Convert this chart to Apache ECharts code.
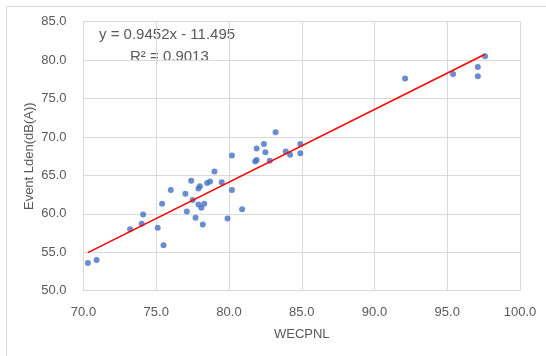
<!DOCTYPE html>
<html>
<head>
<meta charset="utf-8">
<script src="https://cdn.jsdelivr.net/npm/echarts@6/dist/echarts.min.js"></script>
<style>
  html, body { margin: 0; padding: 0; background: #fff; }
  #chart { width: 546px; height: 356px; }
</style>
</head>
<body>
<div id="chart"></div>
<script>
// WECPNL vs Event Lden
const wecpnl = [
  70.3, 70.9, 73.2, 74.0, 74.1, 75.1, 75.4, 75.5, 76.0, 77.0,
  77.1, 77.4, 77.5, 77.7, 77.9, 78.0, 77.9, 78.1, 78.2, 78.3,
  78.5, 78.7, 79.0, 79.5, 79.9, 80.2, 80.2, 80.9, 81.8, 81.9,
  81.9, 82.4, 82.5, 82.8, 83.2, 83.9, 84.2, 84.9, 84.9, 92.1,
  95.4, 97.1, 97.1, 97.6
]
const lden = [
  53.6, 54.0, 58.0, 58.7, 59.9, 58.2, 61.3, 55.9, 63.1, 62.6,
  60.3, 64.3, 61.8, 59.5, 63.3, 63.6, 61.2, 60.8, 58.6, 61.3,
  64.0, 64.2, 65.5, 64.1, 59.4, 63.1, 67.6, 60.6, 66.8, 67.0,
  68.5, 69.1, 68.0, 66.9, 70.6, 68.1, 67.7, 67.9, 69.1, 77.6,
  78.2, 79.1, 77.9, 80.5
]
const slope = 0.9452
const intercept = -11.495
const r2 = 0.9013

const points = wecpnl.map((x, i) => [x, lden[i]])
const xMin = Math.min(...wecpnl)
const xMax = Math.max(...wecpnl)
const trend = [xMin, xMax].map(x => [x, slope * x + intercept])

const FONT = 'Liberation Sans'
const GRAY = '#595959'
const GRID = '#d9d9d9'

const chart = echarts.init(document.getElementById('chart'))
chart.setOption({
  animation: false,
  textStyle: { fontFamily: FONT },
  grid: { left: 83.5, right: 26, top: 21.7, bottom: 65.3 },
  graphic: [{
    type: 'rect',
    shape: { x: 6.5, y: 6.5, width: 600, height: 400 },
    style: { fill: 'none', stroke: GRID, lineWidth: 1 }
  }, {
    type: 'text',
    left: 99, top: 27,
    style: { text: `y = ${slope}x - ${Math.abs(intercept)}`, fill: GRAY, font: `15px "${FONT}"` }
  }, {
    type: 'text',
    left: 130, top: 49,
    style: { text: `R² = ${r2}`, fill: GRAY, font: `15px "${FONT}"` }
  }],
  xAxis: {
    type: 'value',
    min: 70, max: 100, interval: 5,
    name: 'WECPNL',
    nameLocation: 'middle',
    nameGap: 37,
    nameTextStyle: { color: GRAY, fontSize: 13 },
    axisLine: { lineStyle: { color: GRID } },
    axisTick: { show: false },
    axisLabel: { color: GRAY, fontSize: 13, margin: 15, formatter: v => v.toFixed(1) },
    splitLine: { lineStyle: { color: GRID } }
  },
  yAxis: {
    type: 'value',
    min: 50, max: 85, interval: 5,
    name: 'Event Lden(dB(A))',
    nameLocation: 'middle',
    nameGap: 48,
    nameMoveOverlap: false,
    nameTextStyle: { color: GRAY, fontSize: 13 },
    axisLine: { show: true, lineStyle: { color: GRID } },
    axisTick: { show: false },
    axisLabel: { color: GRAY, fontSize: 13, margin: 17, formatter: v => v.toFixed(1) },
    splitLine: { lineStyle: { color: GRID } }
  },
  series: [{
    type: 'scatter',
    data: points,
    symbolSize: 6,
    itemStyle: { color: '#4472c4' },
    z: 3
  }, {
    type: 'line',
    data: trend,
    symbol: 'none',
    lineStyle: { color: '#ff0000', width: 1.6 },
    z: 4
  }]
})
</script>
</body>
</html>
